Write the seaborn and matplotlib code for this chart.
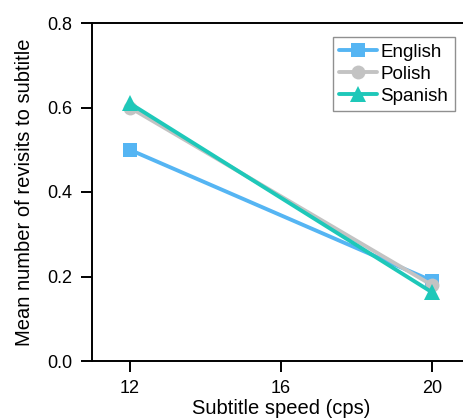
import pandas as pd
import matplotlib
matplotlib.use("Agg")
import matplotlib.pyplot as plt
import seaborn as sns

# data
speeds = [12, 20]
english = [0.50, 0.19]
polish = [0.60, 0.18]
spanish = [0.61, 0.163]
languages = ["English", "Polish", "Spanish"]

df = pd.DataFrame({
    "speed": speeds * 3,
    "revisits": english + polish + spanish,
    "language": [lang for lang in languages for _ in speeds],
})

sns.set_style("ticks")
plt.rcParams["font.family"] = ["Liberation Sans", "DejaVu Sans"]
plt.rcParams["text.color"] = "black"
plt.rcParams["axes.labelcolor"] = "black"

palette = {"English": "#55b5f3", "Polish": "#c3c3c3", "Spanish": "#1ec8b9"}
markers = {"English": "s", "Polish": "o", "Spanish": "^"}

fig = plt.figure(figsize=(4.64, 4.18), dpi=100)
ax = fig.add_axes([92 / 464, 1 - 361 / 418, 377.5 / 464, (361 - 23) / 418])

sns.lineplot(data=df, x="speed", y="revisits", hue="language", style="language",
             palette=palette, markers=markers, dashes=False, linewidth=2.8,
             markersize=10, markeredgewidth=0, ax=ax)

ax.set_xlim(11, 21)
ax.set_ylim(0, 0.8)
ax.set_xticks([12, 16, 20])
ax.set_yticks([0.0, 0.2, 0.4, 0.6, 0.8])
ax.set_yticklabels(["0.0", "0.2", "0.4", "0.6", "0.8"])
ax.tick_params(direction="out", length=8, width=1.4, labelsize=13, colors="black", pad=6)
for s in ax.spines.values():
    s.set_linewidth(1.4)
    s.set_color("black")

ax.set_xlabel("Subtitle speed (cps)", fontsize=14.5, labelpad=1, color="black")
ax.set_ylabel("Mean number of revisits to subtitle", fontsize=14.5, labelpad=10, color="black")

handles, labels = ax.get_legend_handles_labels()
for h in list(ax.lines) + list(handles):
    if h.get_marker() == "^":
        h.set_markersize(12)

leg = ax.legend(handles, labels, loc="upper right",
                bbox_to_anchor=(455 / 464, 1 - 37 / 418),
                bbox_transform=fig.transFigure, fontsize=13.5, frameon=True,
                fancybox=False, handlelength=2.0, handletextpad=0.2,
                labelspacing=0.26, borderpad=0.35, borderaxespad=0)
leg.get_frame().set_edgecolor("#909090")
leg.get_frame().set_linewidth(1.0)
leg.get_frame().set_alpha(1)
for t in leg.get_texts():
    t.set_color("black")

fig.savefig("out.png", dpi=100)
